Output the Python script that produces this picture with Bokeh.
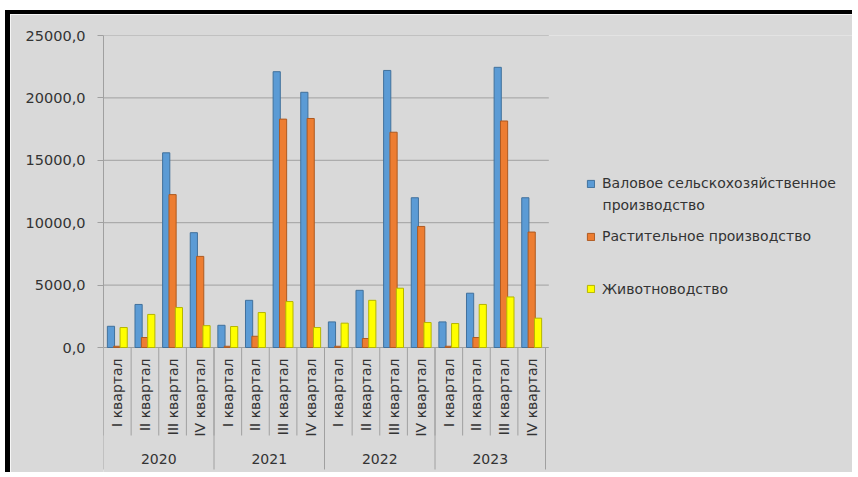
import numpy as np
from bokeh.plotting import figure
from bokeh.models import (ColumnDataSource, Range1d, FixedTicker, CustomJSTickFormatter,
                          Legend, LegendItem, Label)
from bokeh.transform import dodge
from bokeh.core.properties import value
from bokeh.embed import file_html
from bokeh.resources import INLINE

# ---------------- data ----------------
years = ["2020", "2021", "2022", "2023"]
quarters = ["I квартал", "II квартал", "III квартал", "IV квартал"]
gross = [1700, 3450, 15600, 9200, 1780, 3780, 22100, 20450, 2050, 4580, 22200, 12000, 2050, 4350, 22450, 12000]
crop = [100, 800, 12250, 7300, 100, 900, 18300, 18350, 100, 720, 17250, 9700, 100, 800, 18150, 9250]
livestock = [1600, 2650, 3200, 1750, 1680, 2800, 3680, 1600, 1950, 3780, 4750, 2000, 1920, 3450, 4050, 2350]
series_names = ["Валовое сельскохозяйственное", "Растительное производство", "Животноводство"]
series_name_line2 = "производство"
y_ticks = [0, 5000, 10000, 15000, 20000, 25000]

# ---------------- style ----------------
FONT = "DejaVu Sans"
TEXT = "#333333"
GRID = "#a0a0a0"
BG = "#d9d9d9"
colors = ["#5b9bd5", "#ed7d31", "#ffff00"]
edges = ["#41719c", "#ae5a21", "#b5b500"]

# layout (page px)
CX0, CY0 = 10, 14            # canvas origin on page
W, H = 847, 462
FRAME_L, FRAME_T = 103, 35
CAT_W = 27.625                # px per quarter
ZERO_Y = 347                  # page y of value 0
FRAME_B = CY0 + H
FRAME_R = CX0 + W
PX_PER_UNIT = (ZERO_Y - FRAME_T) / y_ticks[-1]
Y_BOTTOM = -(FRAME_B - ZERO_Y) / PX_PER_UNIT


def page_to_val(py):
    return -(py - ZERO_Y) / PX_PER_UNIT


n = len(years) * len(quarters)
cat_x = np.arange(n) + 0.5
src = ColumnDataSource(dict(x=cat_x, gross=gross, crop=crop, livestock=livestock))

p = figure(width=W, height=H, x_range=Range1d(0, (FRAME_R - FRAME_L) / CAT_W),
           y_range=Range1d(Y_BOTTOM, y_ticks[-1]),
           x_axis_type=None, output_backend="svg", toolbar_location=None,
           background_fill_color=BG, border_fill_color=BG,
           min_border=0, min_border_left=FRAME_L - CX0, min_border_right=0,
           min_border_top=FRAME_T - CY0, min_border_bottom=0,
           stylesheets=[":host { position: relative; left: 5px; top: 10px; "
                        "border-left: 5px solid #000; border-top: 4px solid #000; }"])
p.outline_line_color = None
p.grid.visible = False

# y axis
ticker = FixedTicker(ticks=y_ticks)
ax = p.yaxis[0]
ax.ticker = ticker
ax.bounds = (y_ticks[0], y_ticks[-1])
ax.formatter = CustomJSTickFormatter(code="return tick.toFixed(1).replace('.', ',');")
ax.axis_line_color = GRID
ax.major_tick_line_color = GRID
ax.major_tick_out = 6
ax.major_tick_in = 0
ax.minor_tick_line_color = None
ax.major_label_standoff = 12
ax.major_label_text_font = FONT
ax.major_label_text_font_size = "14.5px"
ax.major_label_text_color = TEXT

# horizontal gridlines (from the tick list), limited to the category area
p.segment(x0=0, y0=y_ticks, x1=n + 0.12, y1=y_ticks, line_color=GRID, line_width=1)

# bars
offsets = [-0.23, 0.0, 0.23]
fields = ["gross", "crop", "livestock"]
renderers = []
for f, c, e, o in zip(fields, colors, edges, offsets):
    r = p.vbar(x=dodge("x", o, range=p.x_range), top=f, width=0.26, source=src,
               fill_color=c, line_color=e, line_width=1)
    renderers.append(r)

# category axis drawn in data space below zero
p.segment(x0=np.arange(n + 1), y0=0, x1=np.arange(n + 1), y1=page_to_val(435),
          line_color=GRID, line_width=1)
yb = np.arange(0, n + 1, len(quarters))
p.segment(x0=yb, y0=0, x1=yb, y1=page_to_val(469), line_color=GRID, line_width=1)

q_labels = [q for _ in years for q in quarters]
p.text(x=cat_x, y=page_to_val(358), text=q_labels, angle=np.pi / 2,
       text_align="right", text_baseline="middle",
       text_font=value(FONT), text_font_size="14px", text_color=TEXT)
p.text(x=np.arange(len(years)) * len(quarters) + len(quarters) / 2, y=page_to_val(458), text=years,
       text_align="center", text_baseline="middle",
       text_font=value(FONT), text_font_size="14px", text_color=TEXT)

# legends (one per entry, placed individually)
centers = [183.3, 236.3, 288.7]
for r, name, cy in zip(renderers, series_names, centers):
    leg = Legend(items=[LegendItem(label=name, renderers=[r])],
                 location=(586 - FRAME_L, FRAME_B - (cy + 10)),
                 padding=0, margin=0, spacing=0, glyph_width=9, glyph_height=9,
                 label_standoff=7, label_height=20,
                 label_text_font=FONT, label_text_font_size="14px", label_text_color=TEXT,
                 background_fill_alpha=0, border_line_alpha=0)
    p.add_layout(leg)

p.add_layout(Label(x=602 - FRAME_L, y=FRAME_B - 204, x_units="screen", y_units="screen",
                   text=series_name_line2, text_baseline="alphabetic",
                   text_font=FONT, text_font_size="14px", text_color=TEXT))

open("out.html", "w").write(file_html(p, INLINE))
